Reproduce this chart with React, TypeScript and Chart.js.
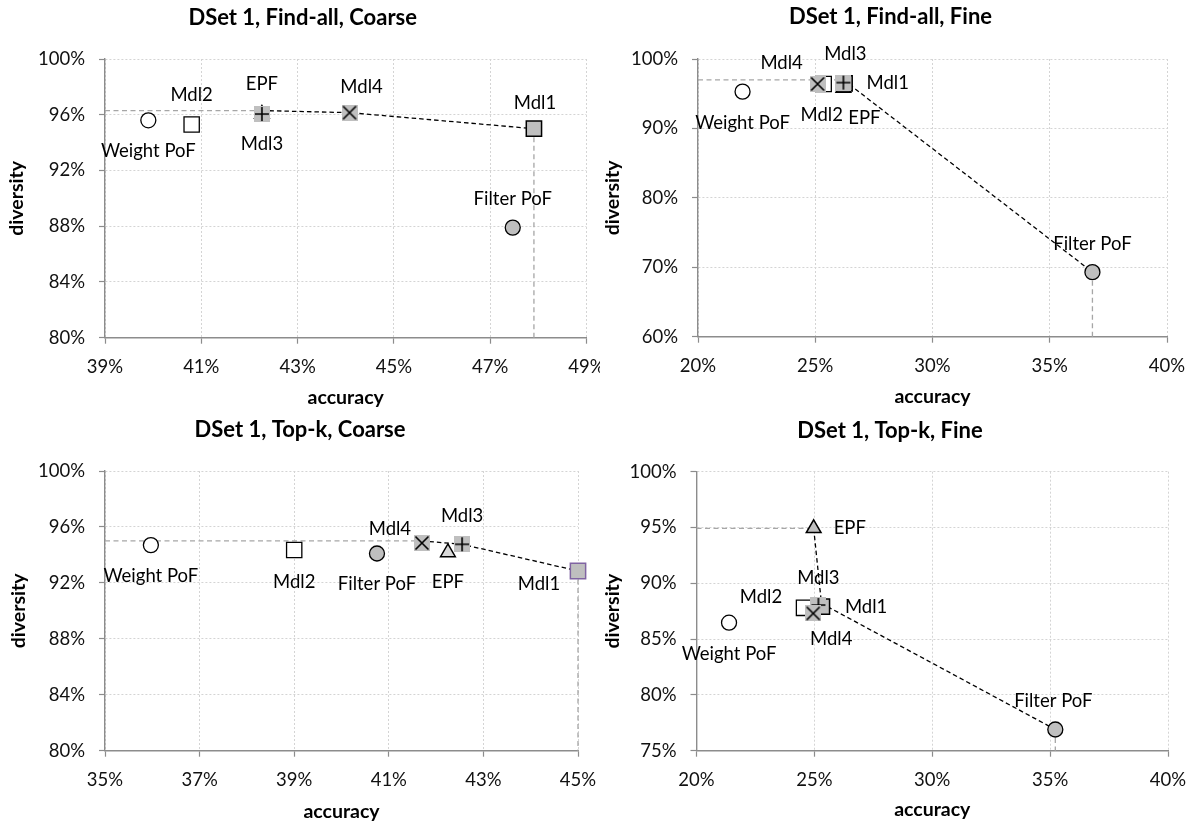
import React, { useEffect, useRef } from "react";
import { Chart, registerables } from "chart.js";
Chart.register(...registerables);

// ---------------- DATA ----------------
const SERIES = ["Weight PoF", "Filter PoF", "EPF", "Mdl1", "Mdl2", "Mdl3", "Mdl4"];

// Panel 1: DSet 1, Find-all, Coarse
const P1_TITLE = "DSet 1, Find-all, Coarse";
const P1_ACC = [39.9, 47.47, 42.26, 47.91, 40.8, 42.26, 44.08];
const P1_DIV = [95.6, 87.9, 96.05, 95.0, 95.3, 96.05, 96.15];
const P1_FRONT_ACC = [42.26, 44.08, 47.91];
const P1_FRONT_DIV = [96.3, 96.15, 95.0];
const P1_X_RANGE = [39, 49, 2];
const P1_Y_RANGE = [80, 100, 4];

// Panel 2: DSet 1, Find-all, Fine
const P2_TITLE = "DSet 1, Find-all, Fine";
const P2_ACC = [21.9, 36.82, 26.2, 26.25, 25.36, 26.2, 25.1];
const P2_DIV = [95.3, 69.3, 95.84, 96.5, 96.4, 96.6, 96.4];
const P2_FRONT_ACC = [26.2, 36.82];
const P2_FRONT_DIV = [97.0, 69.3];
const P2_X_RANGE = [20, 40, 5];
const P2_Y_RANGE = [60, 100, 10];

// Panel 3: DSet 1, Top-k, Coarse
const P3_TITLE = "DSet 1, Top-k, Coarse";
const P3_ACC = [35.97, 40.75, 42.25, 45.0, 39.0, 42.55, 41.7];
const P3_DIV = [94.7, 94.1, 94.18, 92.85, 94.35, 94.76, 94.85];
const P3_FRONT_ACC = [41.7, 42.55, 45.0];
const P3_FRONT_DIV = [95.0, 94.76, 92.85];
const P3_X_RANGE = [35, 45, 2];
const P3_Y_RANGE = [80, 100, 4];

// Panel 4: DSet 1, Top-k, Fine
const P4_TITLE = "DSet 1, Top-k, Fine";
const P4_ACC = [21.38, 35.22, 24.97, 25.32, 24.56, 25.17, 24.95];
const P4_DIV = [86.47, 76.9, 94.93, 87.9, 87.8, 88.05, 87.3];
const P4_FRONT_ACC = [24.97, 25.3, 35.22];
const P4_FRONT_DIV = [94.93, 88.2, 76.9];
const P4_X_RANGE = [20, 40, 5];
const P4_Y_RANGE = [75, 100, 5];

const X_TITLE = "accuracy";
const Y_TITLE = "diversity";

// ---------------- STYLE / LAYOUT ----------------
const FONT = "Lato, 'Open Sans', sans-serif";
const GRAY_FILL = "#bfbfbf";
const TEXT_SIZE = 18.5;

type LabelPos = [number, number, CanvasTextAlign];

type Layout = {
  left: number; top: number; w: number; h: number;
  areaL: number; areaR: number; areaT: number; areaB: number;
  titleX: number; titleY: number;
  xTitleCenter: number; yTitleCenter: number;
  mdl1Border: string; epfFill: string;
  labels: LabelPos[];
};

const L1: Layout = {
  left: 0, top: 0, w: 600, h: 412,
  areaL: 105, areaR: 586.4, areaT: 59, areaB: 337.7,
  titleX: 302.7, titleY: 18, xTitleCenter: 398, yTitleCenter: 17,
  mdl1Border: "#000", epfFill: GRAY_FILL,
  labels: [[0, 31, "center"], [0, -29, "center"], [0, -30, "center"], [1, -26, "center"], [0, -29, "center"], [0, 30, "center"], [12, -26, "center"]],
};
const L2: Layout = {
  left: 600, top: 0, w: 596, h: 412,
  areaL: 98, areaR: 567, areaT: 59, areaB: 336.7,
  titleX: 290.5, titleY: 16.7, xTitleCenter: 396.7, yTitleCenter: 13,
  mdl1Border: "#000", epfFill: GRAY_FILL,
  labels: [[0, 31, "center"], [0, -28, "center"], [21, 30, "center"], [22, 0, "left"], [-2, 31, "center"], [2, -29, "center"], [-36, -21, "center"]],
};
const L3: Layout = {
  left: 0, top: 412, w: 600, h: 413,
  areaL: 105, areaR: 578, areaT: 59, areaB: 338.7,
  titleX: 300, titleY: 18, xTitleCenter: 399.7, yTitleCenter: 19,
  mdl1Border: "#8064a2", epfFill: "#d9d9d9",
  labels: [[0, 31, "center"], [0, 31, "center"], [0, 30, "center"], [-39, 13, "center"], [0, 32, "center"], [0, -28, "center"], [-32, -14, "center"]],
};
const L4: Layout = {
  left: 600, top: 412, w: 596, h: 413,
  areaL: 96.5, areaR: 568, areaT: 59.7, areaB: 338.7,
  titleX: 290, titleY: 18.7, xTitleCenter: 398, yTitleCenter: 13,
  mdl1Border: "#000", epfFill: GRAY_FILL,
  labels: [[0, 31, "center"], [-2, -28, "center"], [20, 0, "left"], [23, 0, "left"], [-43, -11, "center"], [0, -27, "center"], [18, 26, "center"]],
};

type Panel = {
  title: string; acc: number[]; div: number[];
  frontAcc: number[]; frontDiv: number[];
  xr: number[]; yr: number[]; layout: Layout;
};

const PANELS: Panel[] = [
  { title: P1_TITLE, acc: P1_ACC, div: P1_DIV, frontAcc: P1_FRONT_ACC, frontDiv: P1_FRONT_DIV, xr: P1_X_RANGE, yr: P1_Y_RANGE, layout: L1 },
  { title: P2_TITLE, acc: P2_ACC, div: P2_DIV, frontAcc: P2_FRONT_ACC, frontDiv: P2_FRONT_DIV, xr: P2_X_RANGE, yr: P2_Y_RANGE, layout: L2 },
  { title: P3_TITLE, acc: P3_ACC, div: P3_DIV, frontAcc: P3_FRONT_ACC, frontDiv: P3_FRONT_DIV, xr: P3_X_RANGE, yr: P3_Y_RANGE, layout: L3 },
  { title: P4_TITLE, acc: P4_ACC, div: P4_DIV, frontAcc: P4_FRONT_ACC, frontDiv: P4_FRONT_DIV, xr: P4_X_RANGE, yr: P4_Y_RANGE, layout: L4 },
];

function makeMarker(kind: "plus" | "cross"): HTMLCanvasElement {
  const s = 16;
  const c = document.createElement("canvas");
  c.width = s;
  c.height = s;
  const g = c.getContext("2d")!;
  g.fillStyle = GRAY_FILL;
  g.fillRect(0, 0, s, s);
  g.strokeStyle = "#000";
  g.lineWidth = 1.6;
  g.beginPath();
  if (kind === "plus") {
    g.moveTo(1, s / 2); g.lineTo(s - 1, s / 2);
    g.moveTo(s / 2, 1); g.lineTo(s / 2, s - 1);
  } else {
    g.moveTo(1.5, 1.5); g.lineTo(s - 1.5, s - 1.5);
    g.moveTo(s - 1.5, 1.5); g.lineTo(1.5, s - 1.5);
  }
  g.stroke();
  return c;
}

function buildConfig(p: Panel): any {
  const L = p.layout;
  const plus = makeMarker("plus");
  const cross = makeMarker("cross");
  const [xMin, xMax, xStep] = p.xr;
  const [yMin, yMax, yStep] = p.yr;
  const nF = p.frontAcc.length;
  const lineBase = { type: "scatter", showLine: true, pointRadius: 0, pointHoverRadius: 0, borderWidth: 1.3, clip: false, order: 100 };
  const datasets: any[] = [
    { ...lineBase, data: [{ x: xMin, y: p.frontDiv[0] }, { x: p.frontAcc[0], y: p.frontDiv[0] }], borderColor: "#a6a6a6", borderDash: [5, 3.5] },
    { ...lineBase, data: [{ x: p.frontAcc[nF - 1], y: p.frontDiv[nF - 1] }, { x: p.frontAcc[nF - 1], y: yMin }], borderColor: "#a6a6a6", borderDash: [5, 3.5] },
    { ...lineBase, data: p.frontAcc.map((a, i) => ({ x: a, y: p.frontDiv[i] })), borderColor: "#000", borderDash: [4.5, 3] },
  ];
  const styles: any[] = [
    { pointStyle: "circle", pointRadius: 7.5, backgroundColor: "#fff", borderColor: "#000", borderWidth: 1.3 },
    { pointStyle: "circle", pointRadius: 7.5, backgroundColor: GRAY_FILL, borderColor: "#000", borderWidth: 1.3 },
    { pointStyle: "triangle", pointRadius: 8.5, backgroundColor: L.epfFill, borderColor: "#000", borderWidth: 1.5 },
    { pointStyle: "rect", pointRadius: 10.8, backgroundColor: GRAY_FILL, borderColor: L.mdl1Border, borderWidth: 1.5 },
    { pointStyle: "rect", pointRadius: 10.8, backgroundColor: "#fff", borderColor: "#000", borderWidth: 1.3 },
    { pointStyle: plus, pointRadius: 8 },
    { pointStyle: cross, pointRadius: 8 },
  ];
  SERIES.forEach((name, i) => {
    datasets.push({
      type: "scatter",
      label: name,
      data: [{ x: p.acc[i], y: p.div[i] }],
      clip: false,
      order: 50 - i,
      pointHoverRadius: styles[i].pointRadius,
      ...styles[i],
      pointBackgroundColor: styles[i].backgroundColor,
      pointBorderColor: styles[i].borderColor,
      pointBorderWidth: styles[i].borderWidth,
    });
  });

  const labelPlugin = {
    id: "ptLabels",
    afterDatasetsDraw(chart: any) {
      const ctx = chart.ctx as CanvasRenderingContext2D;
      ctx.save();
      ctx.fillStyle = "#000";
      ctx.textBaseline = "middle";
      ctx.font = `${TEXT_SIZE}px ${FONT}`;
      SERIES.forEach((name, i) => {
        const el = chart.getDatasetMeta(3 + i).data[0];
        const [dx, dy, align] = L.labels[i];
        ctx.textAlign = align;
        ctx.fillText(name, el.x + dx, el.y + dy);
      });
      ctx.font = `bold 22px ${FONT}`;
      ctx.textAlign = "center";
      ctx.fillText(p.title, L.titleX, L.titleY);
      ctx.restore();
    },
  };

  const tickFont = { family: FONT, size: TEXT_SIZE };
  const axisTitleFont = { family: FONT, size: 19.5, weight: "bold" as const, lineHeight: 1.2 };
  const titleHalf = (19.5 * 1.2) / 2;
  const gridCommon = {
    color: "#d4d4d4",
    lineWidth: 1,
    tickLength: 6,
    tickColor: "#8c8c8c",
    tickWidth: 1.2,
    tickBorderDash: [],
  };
  const borderCommon = { display: true, color: "#8c8c8c", width: 1.4, dash: [2, 2] };

  return {
    type: "scatter",
    data: { datasets },
    plugins: [labelPlugin],
    options: {
      animation: false,
      responsive: false,
      maintainAspectRatio: false,
      events: [],
      layout: { padding: { left: 0, top: L.areaT, right: L.w - L.areaR, bottom: 0 } },
      plugins: { legend: { display: false }, tooltip: { enabled: false }, title: { display: false } },
      scales: {
        x: {
          type: "linear",
          min: xMin, max: xMax,
          ticks: { stepSize: xStep, font: tickFont, color: "#111", padding: 12, maxRotation: 0, autoSkip: false, callback: (v: any) => `${v}%` },
          grid: gridCommon,
          border: borderCommon,
          title: { display: true, text: X_TITLE, font: axisTitleFont, color: "#000", padding: { top: 0, bottom: L.h - L.xTitleCenter - titleHalf } },
          afterFit(scale: any) {
            scale.height = L.h - L.areaB;
            scale.paddingLeft = 0;
            scale.paddingRight = 0;
          },
        },
        y: {
          type: "linear",
          min: yMin, max: yMax,
          ticks: { stepSize: yStep, font: tickFont, color: "#111", padding: 14, autoSkip: false, callback: (v: any) => `${v}%` },
          grid: gridCommon,
          border: borderCommon,
          title: { display: true, text: Y_TITLE, font: axisTitleFont, color: "#000", padding: { top: L.yTitleCenter - titleHalf, bottom: 0 } },
          afterFit(scale: any) {
            scale.width = L.areaL;
            scale.paddingTop = 0;
            scale.paddingBottom = 0;
          },
        },
      },
    },
  };
}

function PanelChart({ panel }: { panel: Panel }) {
  const ref = useRef<HTMLCanvasElement | null>(null);
  useEffect(() => {
    if (!ref.current) return;
    const chart = new Chart(ref.current, buildConfig(panel));
    return () => chart.destroy();
  }, [panel]);
  const L = panel.layout;
  return (
    <div style={{ position: "absolute", left: L.left, top: L.top, width: L.w, height: L.h }}>
      <canvas ref={ref} width={L.w} height={L.h} style={{ width: L.w, height: L.h, display: "block" }} />
    </div>
  );
}

export default function App() {
  return (
    <div style={{ position: "absolute", left: 0, top: 0, width: 1196, height: 825, background: "#fff" }}>
      {PANELS.map((p, i) => (
        <PanelChart key={i} panel={p} />
      ))}
    </div>
  );
}
